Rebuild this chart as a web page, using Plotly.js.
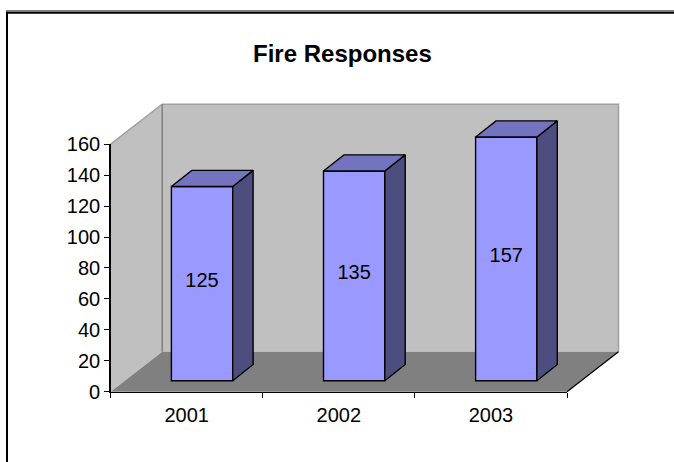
<!DOCTYPE html>
<html>
<head>
<meta charset="utf-8">
<script src="https://cdn.plot.ly/plotly-3.0.1.min.js"></script>
<style>html,body{margin:0;padding:0;background:#fff;overflow:hidden}</style>
</head>
<body>
<div id="chart" style="width:674px;height:462px"></div>
<script>
const years = ['2001', '2002', '2003'];
const responses = [125, 135, 157];
const yTicks = [0, 20, 40, 60, 80, 100, 120, 140, 160];
const categoryPositions = [1, 2, 3];
const categoryEdges = [0.5, 1.5, 2.5, 3.5];

// Visible axis box in pixels
const L = 110.7, R = 567, T = 144.2, B = 391.7;
// Larger drawing box in pixels, holding the oblique room and bars
const pL = 100, pR = 640, pT = 90, pB = 400;
const pxX = (R - L) / 3;        // pixels per category
const pxY = (B - T) / 160;      // pixels per value unit
const X0 = 0.5, X1 = 3.5, Y0 = 0, Y1 = 160;
const wideX = [X0 + (pL - L) / pxX, X0 + (pR - L) / pxX];
const wideY = [(B - pB) / pxY, (B - pT) / pxY];
// Oblique depth of the room and of the bars, as axis units
const roomDx = 51.5 / pxX, roomDy = 40 / pxY;
const barDx = 20.4 / pxX, barDy = 16.2 / pxY;
const barShiftX = 15.3 / pxX, barShiftY = 11 / pxY, barTopExtra = 0.8 / pxY;
const barWidth = 61.3 / pxX;

const font = 'Liberation Sans, Arial, sans-serif';
const poly = (xs, ys, fill, line, width, ax) => ({
  type: 'scatter', mode: width ? 'lines' : 'none', x: xs, y: ys, fill: 'toself',
  fillcolor: fill, line: {color: line || fill, width: width || 0}, hoverinfo: 'skip',
  showlegend: false, xaxis: ax || 'x', yaxis: ax ? ax.replace('x', 'y') : 'y'
});
const edge = (xs, ys, color, width) => ({
  type: 'scatter', mode: 'lines', x: xs, y: ys, line: {color: color, width: width},
  hoverinfo: 'skip', showlegend: false, xaxis: 'x', yaxis: 'y'
});

const traces = [
  poly([X0, X0, X0 + roomDx, X0 + roomDx], [Y0, Y1, Y1 + roomDy, Y0 + roomDy], '#c0c0c0'),
  poly([X0 + roomDx, X0 + roomDx, X1 + roomDx, X1 + roomDx], [Y0 + roomDy, Y1 + roomDy, Y1 + roomDy, Y0 + roomDy], '#c0c0c0'),
  poly([X0, X1, X1 + roomDx, X0 + roomDx], [Y0, Y0, Y0 + roomDy, Y0 + roomDy], '#808080'),
  edge([X0, X0 + roomDx, X1 + roomDx, X1 + roomDx], [Y1, Y1 + roomDy, Y1 + roomDy, Y0 + roomDy], '#a0a0a0', 1.5),
  edge([X0 + roomDx, X0 + roomDx], [Y0 + roomDy, Y1 + roomDy], '#808080', 1.5),
  edge([X1, X1 + roomDx], [Y0, Y0 + roomDy], '#000000', 1.25)
];

// Front faces: real bars on an overlaying subplot
const frontX = categoryPositions.map(c => c + barShiftX);
traces.push({
  type: 'bar', x: frontX, y: responses.map(v => v + barTopExtra),
  base: responses.map(() => barShiftY), width: barWidth,
  marker: {color: '#9999ff', line: {color: '#000000', width: 1.4}},
  hoverinfo: 'skip', showlegend: false, xaxis: 'x2', yaxis: 'y2'
});
// Side and top faces derived from the same values
responses.forEach((v, i) => {
  const l = frontX[i] - barWidth / 2, r = frontX[i] + barWidth / 2;
  const top = barShiftY + v + barTopExtra, base = barShiftY;
  traces.push(poly([r, r + barDx, r + barDx, r, r], [base, base + barDy, top + barDy, top, base],
    '#4d4d80', '#000000', 1.4, 'x2'));
  traces.push(poly([l, l + barDx, r + barDx, r, l], [top, top + barDy, top + barDy, top, top],
    '#7373bf', '#000000', 1.4, 'x2'));
});
// Data labels, on the visible axes
traces.push({
  type: 'scatter', mode: 'text', x: frontX, y: responses.map(v => barShiftY + v / 2 + 1.3),
  text: responses.map(String), textposition: 'middle center',
  textfont: {family: font, size: 20, color: '#000'},
  hoverinfo: 'skip', showlegend: false, xaxis: 'x3', yaxis: 'y3'
});

const pageX = p => (p - pL) / (pR - pL);
const pageY = p => (pB - p) / (pB - pT);
const rule = (x0, y0, x1, y1, color, width) => ({
  type: 'line', xref: 'paper', yref: 'paper', x0: pageX(x0), y0: pageY(y0), x1: pageX(x1), y1: pageY(y1),
  line: {color: color, width: width}
});
const hidden = (range, extra) => Object.assign({range: range, visible: false, domain: [0, 1], fixedrange: true}, extra);

const layout = {
  width: 674, height: 462, autosize: false,
  paper_bgcolor: '#ffffff', plot_bgcolor: 'rgba(0,0,0,0)',
  margin: {l: pL, r: 674 - pR, t: pT, b: 462 - pB, pad: 0},
  font: {family: font, size: 20, color: '#000'},
  title: {text: '<b>Fire Responses</b>', x: 342.4 / 674, y: 1 - 53.5 / 462, xref: 'container', yref: 'container',
          xanchor: 'center', yanchor: 'middle', font: {family: font, size: 24, color: '#000'}},
  showlegend: false,
  xaxis: hidden(wideX, {anchor: 'y'}),
  yaxis: hidden(wideY, {anchor: 'x'}),
  xaxis2: {overlaying: 'x', range: wideX, visible: false, anchor: 'y2'},
  yaxis2: {overlaying: 'y', range: wideY, visible: false, anchor: 'x2'},
  xaxis3: {
    domain: [pageX(L), pageX(R)], anchor: 'y3',
    range: [X0, X1], tickmode: 'array', tickvals: categoryPositions, ticktext: years,
    ticks: '', showgrid: false, zeroline: false, showline: true, linecolor: '#000', linewidth: 1.5,
    tickfont: {family: font, size: 20, color: '#000'}, ticklabelstandoff: 5,
    minor: {tickmode: 'array', tickvals: categoryEdges, ticks: 'outside', ticklen: 5, tickwidth: 1, tickcolor: '#000', showgrid: false}
  },
  yaxis3: {
    domain: [pageY(B), pageY(T)], anchor: 'x3',
    range: [Y0, Y1], tickmode: 'array', tickvals: yTicks, ticks: 'outside', ticklen: 5, tickwidth: 1, tickcolor: '#000',
    showgrid: false, zeroline: false, showline: true, linecolor: '#000', linewidth: 1.5,
    tickfont: {family: font, size: 20, color: '#000'}
  },
  shapes: [
    rule(6, 10.9, 674, 10.9, '#808080', 1.6),
    rule(6, 12.7, 674, 12.7, '#000000', 2),
    rule(7, 11.7, 7, 462, '#000000', 2)
  ]
};
Plotly.newPlot('chart', traces, layout, {displayModeBar: false, responsive: false, staticPlot: true});
</script>
</body>
</html>
